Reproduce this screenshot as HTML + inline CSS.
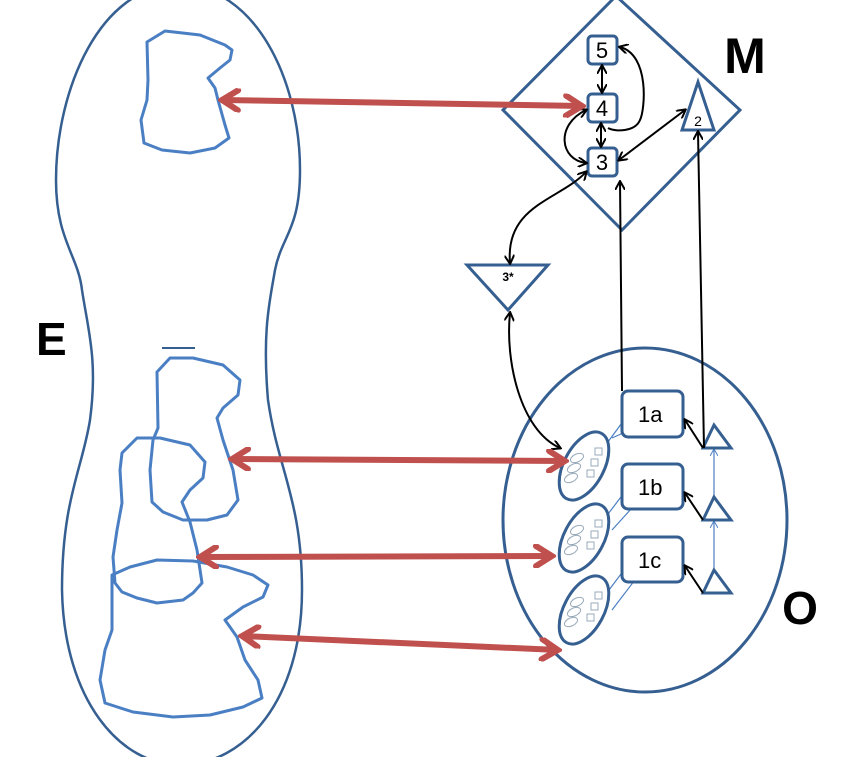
<!DOCTYPE html>
<html><head><style>html,body{margin:0;padding:0;background:#fff;}svg{display:block}</style></head>
<body>
<svg width="854" height="757" viewBox="0 0 854 757" xmlns="http://www.w3.org/2000/svg" font-family="Liberation Sans, sans-serif">
<defs>
<marker id="ah" markerWidth="10" markerHeight="10" refX="8" refY="5" orient="auto-start-reverse" markerUnits="userSpaceOnUse"><path d="M0,0 L9,5 L0,10" fill="none" stroke="#000" stroke-width="2"/></marker>
<marker id="ahb" markerWidth="8" markerHeight="8" refX="6" refY="4" orient="auto-start-reverse" markerUnits="userSpaceOnUse"><path d="M0,0 L7,4 L0,8" fill="none" stroke="#4a7fc4" stroke-width="1"/></marker>
<marker id="ar" markerWidth="24" markerHeight="24" refX="20" refY="12" orient="auto-start-reverse" markerUnits="userSpaceOnUse"><path d="M4,2 L20,12 L4,22" fill="none" stroke="#c0504d" stroke-width="6" stroke-linecap="round"/></marker>
</defs>
<!-- E outline -->
<path d="M178,-15 C100,-15 56,90 56,180 C56,240 78,255 82,290 C88,330 98,360 90,420 C82,470 62,500 62,590 C64,700 120,765 180,765 C245,765 302,700 302,590 C302,500 278,470 268,400 C262,330 270,300 275,270 C282,235 300,230 300,170 C300,80 255,-15 178,-15 Z" fill="none" stroke="#365f91" stroke-width="2.5"/>
<line x1="162" y1="348" x2="195" y2="348" stroke="#365f91" stroke-width="2"/>
<!-- blobs -->
<g fill="none" stroke="#4a7fc4" stroke-width="3" stroke-linejoin="round">
<polygon points="147,42 165,31 200,35 225,45 232,50 230,60 220,68 208,78 215,88 218,100 225,125 229,138 215,148 190,153 162,150 144,143 141,120 147,100 148,80"/>
<polygon points="157,372 170,358 193,358 223,365 240,380 238,395 223,408 217,418 223,440 233,470 238,500 227,515 207,520 183,520 163,512 152,502 150,470 153,440 158,428"/>
<polygon points="122,453 137,438 160,438 190,445 205,462 203,478 190,490 182,502 190,522 197,550 202,583 193,593 183,600 157,603 137,598 122,592 115,583 113,557 117,530 122,503 120,470"/>
<polygon points="112,575 130,567 157,560 193,561 227,567 253,575 268,585 263,597 243,607 225,620 237,637 245,660 258,680 262,698 243,707 210,715 173,717 133,712 105,703 100,680 105,650 112,630"/>
</g>
<!-- M diamond -->
<polygon points="616,-4 740,110 622,230 503,110" fill="none" stroke="#365f91" stroke-width="3"/>
<g fill="#fff" stroke="#365f91" stroke-width="3">
<rect x="588" y="36" width="29" height="28" rx="4"/>
<rect x="588" y="94" width="29" height="28" rx="4"/>
<rect x="588" y="148" width="29" height="28" rx="4"/>
<polygon points="698,82 714,130 682,130"/>
<polygon points="467,265 548,265 508,310"/>
</g>
<g font-size="22" text-anchor="middle" fill="#000">
<text x="602" y="58">5</text><text x="602" y="116">4</text><text x="602" y="170">3</text>
</g>
<text x="698" y="126" font-size="14" text-anchor="middle">2</text>
<text x="508" y="281" font-size="12" font-weight="bold" text-anchor="middle">3*</text>
<text x="745" y="73" font-size="50" font-weight="bold" text-anchor="middle">M</text>
<text x="36" y="355" font-size="46" font-weight="bold">E</text>
<text x="800" y="624" font-size="46" font-weight="bold" text-anchor="middle">O</text>
<!-- O ellipse -->
<ellipse cx="645" cy="520" rx="142" ry="172" fill="none" stroke="#365f91" stroke-width="3"/>
<!-- blue thin connectors -->
<g stroke="#4a7fc4" stroke-width="1.2">
<line x1="602" y1="450" x2="630" y2="412"/><line x1="612" y1="438" x2="641" y2="425"/>
<line x1="602" y1="522" x2="630" y2="485"/><line x1="612" y1="530" x2="641" y2="498"/>
<line x1="606" y1="594" x2="630" y2="562"/><line x1="612" y1="610" x2="641" y2="572"/>
<line x1="714" y1="497" x2="714" y2="450" marker-end="url(#ahb)"/>
<line x1="714" y1="570" x2="714" y2="522" marker-end="url(#ahb)"/>
</g>
<!-- small ellipses -->
<g fill="#fff" stroke="#365f91" stroke-width="3">
<ellipse cx="584" cy="466" rx="20" ry="37" transform="rotate(28 584 466)"/>
<ellipse cx="584" cy="538" rx="20" ry="37" transform="rotate(28 584 538)"/>
<ellipse cx="584" cy="610" rx="20" ry="37" transform="rotate(28 584 610)"/>
</g>
<g fill="none" stroke="#9ab" stroke-width="1">
<g id="cl"><ellipse cx="577" cy="458" rx="7" ry="4" transform="rotate(-25 577 458)"/><ellipse cx="574" cy="468" rx="7" ry="4" transform="rotate(-25 574 468)"/><ellipse cx="571" cy="478" rx="7" ry="4" transform="rotate(-25 571 478)"/><rect x="595" y="448" width="7" height="7"/><rect x="591" y="459" width="7" height="7"/><rect x="587" y="470" width="7" height="7"/></g>
<use href="#cl" y="72"/><use href="#cl" y="144"/>
</g>
<!-- 1a 1b 1c -->
<g fill="#fff" stroke="#365f91" stroke-width="3">
<rect x="622" y="391" width="61" height="46" rx="6"/>
<rect x="622" y="464" width="61" height="45" rx="6"/>
<rect x="622" y="537" width="61" height="45" rx="6"/>
<polygon points="714,425 731,448 703,448"/>
<polygon points="714,497 731,520 703,520"/>
<polygon points="714,570 731,593 703,593"/>
</g>
<g font-size="22" fill="#000">
<text x="638" y="422">1a</text><text x="638" y="495">1b</text><text x="638" y="568">1c</text>
</g>
<!-- black connectors -->
<g fill="none" stroke="#000" stroke-width="2">
<line x1="622" y1="391" x2="620" y2="182" marker-end="url(#ah)"/>
<line x1="704" y1="448" x2="698" y2="132" marker-end="url(#ah)"/>
<line x1="703" y1="448" x2="685" y2="420" marker-end="url(#ah)"/>
<line x1="703" y1="520" x2="685" y2="493" marker-end="url(#ah)"/>
<line x1="703" y1="593" x2="685" y2="566" marker-end="url(#ah)"/>
<line x1="602" y1="66" x2="602" y2="92" marker-start="url(#ah)" marker-end="url(#ah)"/>
<line x1="601" y1="124" x2="601" y2="146" marker-start="url(#ah)" marker-end="url(#ah)"/>
<line x1="619" y1="160" x2="685" y2="110" marker-start="url(#ah)" marker-end="url(#ah)"/>
<path d="M620,47 C650,55 645,110 640,120 C635,132 615,132 608,128" marker-start="url(#ah)"/>
<path d="M586,110 C555,125 560,160 586,163" marker-start="url(#ah)" marker-end="url(#ah)"/>
<path d="M510,263 C505,205 560,200 586,172" marker-start="url(#ah)" marker-end="url(#ah)"/>
<path d="M510,313 C505,360 520,430 560,448" marker-start="url(#ah)" marker-end="url(#ah)"/>
</g>
<!-- red arrows -->
<g stroke="#c0504d" stroke-width="6" fill="none">
<line x1="222" y1="100" x2="582" y2="106" marker-start="url(#ar)" marker-end="url(#ar)"/>
<line x1="232" y1="459" x2="565" y2="461" marker-start="url(#ar)" marker-end="url(#ar)"/>
<line x1="200" y1="557" x2="552" y2="556" marker-start="url(#ar)" marker-end="url(#ar)"/>
<line x1="242" y1="636" x2="558" y2="650" marker-start="url(#ar)" marker-end="url(#ar)"/>
</g>
</svg>
</body></html>
